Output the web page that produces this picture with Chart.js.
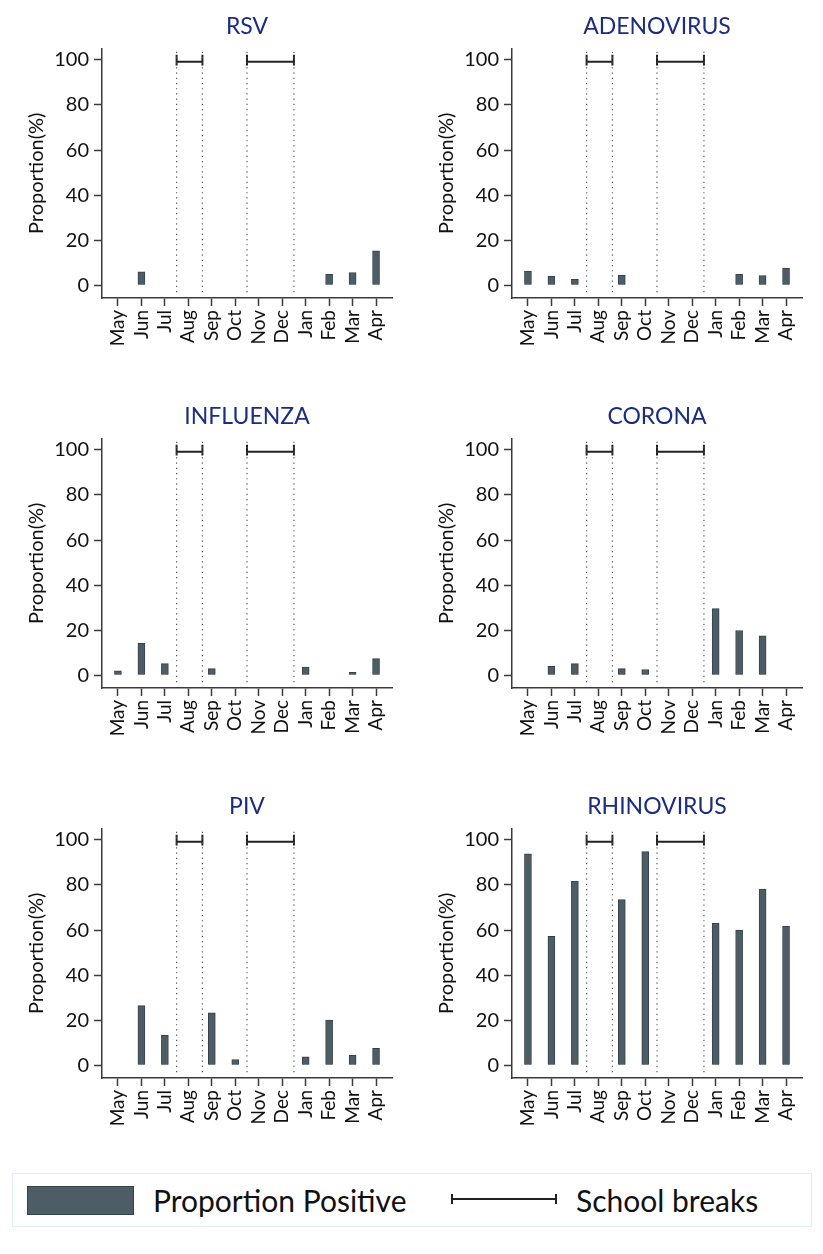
<!DOCTYPE html>
<html>
<head>
<meta charset="utf-8">
<script src="https://cdn.jsdelivr.net/npm/chart.js@4.4.1/dist/chart.umd.min.js"></script>
<style>
  body { margin: 0; background: #fff; font-family: Lato, sans-serif; }
  #wrap { position: relative; width: 823px; height: 1254px; }
  .panel { position: absolute; width: 410px; height: 390px; }
  #legend { position: absolute; left: 12px; top: 1173px; width: 800px; height: 54px;
            border: 1.5px solid #dcf2f2; box-sizing: border-box; }
  .swatch { position: absolute; left: 14px; top: 12px; width: 107px; height: 29px;
            background: #4d5d65; border: 1px solid #34434a; box-sizing: border-box; }
  .ltext { position: absolute; top: 8px; font-size: 30px; color: #111; line-height: 36px; }
  .bracket { position: absolute; left: 438px; top: 20px; width: 106px; height: 10px;
             border-left: 2px solid #222; border-right: 2px solid #222; box-sizing: border-box; }
  .bracket::after { content: ""; position: absolute; left: 0; right: 0; top: 4px; height: 2px; background: #222; }
</style>
</head>
<body>
<div id="wrap">
  <div class="panel" style="left:0;top:0"><canvas id="c0" width="410" height="390"></canvas></div>
  <div class="panel" style="left:410px;top:0"><canvas id="c1" width="410" height="390"></canvas></div>
  <div class="panel" style="left:0;top:390px"><canvas id="c2" width="410" height="390"></canvas></div>
  <div class="panel" style="left:410px;top:390px"><canvas id="c3" width="410" height="390"></canvas></div>
  <div class="panel" style="left:0;top:780px"><canvas id="c4" width="410" height="390"></canvas></div>
  <div class="panel" style="left:410px;top:780px"><canvas id="c5" width="410" height="390"></canvas></div>
  <div id="legend">
    <div class="swatch"></div>
    <div class="ltext" style="left:140px">Proportion Positive</div>
    <div class="bracket"></div>
    <div class="ltext" style="left:563px">School breaks</div>
  </div>
</div>
<script>
const months = ['May', 'Jun', 'Jul', 'Aug', 'Sep', 'Oct', 'Nov', 'Dec', 'Jan', 'Feb', 'Mar', 'Apr'];
const yTicks = [0, 20, 40, 60, 80, 100];

// proportion positive (%) per month, null = no bar
const rsv        = [null, 6.0, null, null, null, null, null, null, null, 4.9, 5.7, 15.3];
const adenovirus = [6.3, 4.0, 2.7, null, 4.6, null, null, null, null, 4.9, 4.3, 7.7];
const influenza  = [2.0, 14.2, 5.2, null, 3.0, null, null, null, 3.7, null, 1.3, 7.4];
const corona     = [null, 4.0, 5.2, null, 3.0, 2.6, null, null, 29.6, 19.9, 17.5, null];
const piv        = [null, 26.5, 13.3, null, 23.3, 2.6, null, null, 3.8, 20.1, 4.4, 7.6];
const rhinovirus = [93.8, 57.2, 81.7, null, 73.5, 94.8, null, null, 63.0, 60.0, 78.2, 61.7];

// school breaks, in month-index units on the x axis
const breakStart = [2.5, 5.5];
const breakEnd   = [3.6, 7.5];

const panels = [
  ['RSV', rsv], ['ADENOVIRUS', adenovirus],
  ['INFLUENZA', influenza], ['CORONA', corona],
  ['PIV', piv], ['RHINOVIRUS', rhinovirus]
];

Chart.defaults.font.family = 'Lato, sans-serif';
Chart.defaults.color = '#111';

const axisColor = '#3a3a3a';

function makeChart(id, title, values) {
  const bars = values.map((v, i) => ({ x: i, y: v }));

  // dotted guide lines at each break edge
  const guides = [];
  breakStart.forEach((s, k) => {
    [s, breakEnd[k]].forEach(x => {
      guides.push({ x: x, y: -3 }, { x: x, y: 105 }, { x: x, y: null });
    });
  });

  // bracket at the top for each break
  const brackets = [];
  breakStart.forEach((s, k) => {
    const e = breakEnd[k];
    brackets.push(
      { x: s, y: 97.5 }, { x: s, y: 102.3 }, { x: s, y: null },
      { x: s, y: 99.2 }, { x: e, y: 99.2 }, { x: e, y: null },
      { x: e, y: 97.5 }, { x: e, y: 102.3 }, { x: e, y: null }
    );
  });

  return new Chart(document.getElementById(id), {
    type: 'bar',
    data: {
      datasets: [
        {
          label: 'Proportion Positive',
          data: bars,
          backgroundColor: '#4d5d65',
          borderColor: '#34434a',
          borderWidth: 1,
          barThickness: 7
        },
        {
          type: 'line',
          label: 'guides',
          data: guides,
          borderColor: '#555',
          borderWidth: 1.2,
          borderDash: [1.2, 4],
          pointRadius: 0,
          spanGaps: false
        },
        {
          type: 'line',
          label: 'School breaks',
          data: brackets,
          borderColor: '#222',
          borderWidth: 2,
          pointRadius: 0,
          spanGaps: false
        }
      ]
    },
    options: {
      responsive: false,
      animation: false,
      devicePixelRatio: 1,
      layout: { padding: { left: 0, right: 18, top: 0, bottom: 0 } },
      plugins: {
        legend: { display: false },
        tooltip: { enabled: false },
        title: {
          display: true,
          text: title,
          fullSize: false,
          color: '#1c2d80',
          font: { size: 23, weight: 'normal' },
          padding: { top: 13, bottom: 8 }
        }
      },
      scales: {
        x: {
          type: 'linear',
          min: -0.68,
          max: 11.68,
          offset: false,
          afterBuildTicks: (scale) => { scale.ticks = months.map((m, i) => ({ value: i })); },
          afterFit: (scale) => { scale.height = 92; },
          ticks: {
            autoSkip: false,
            minRotation: 90,
            maxRotation: 90,
            padding: 4,
            font: { size: 19 },
            callback: (v) => months[v]
          },
          grid: { display: true, drawOnChartArea: false, offset: false, tickLength: 8, tickColor: axisColor, tickWidth: 1.5 },
          border: { display: true, color: axisColor, width: 1.5 }
        },
        y: {
          min: -5.6,
          max: 105,
          afterBuildTicks: (scale) => { scale.ticks = yTicks.map(v => ({ value: v })); },
          afterFit: (scale) => { scale.width = 102; },
          ticks: { padding: 5, font: { size: 20 } },
          title: {
            display: true,
            text: 'Proportion(%)',
            font: { size: 20 },
            padding: { top: 25, bottom: 0 }
          },
          grid: { display: true, drawOnChartArea: false, tickLength: 8, tickColor: axisColor, tickWidth: 1.5 },
          border: { display: true, color: axisColor, width: 1.5 }
        }
      }
    }
  });
}

panels.forEach((p, i) => makeChart('c' + i, p[0], p[1]));
</script>
</body>
</html>
